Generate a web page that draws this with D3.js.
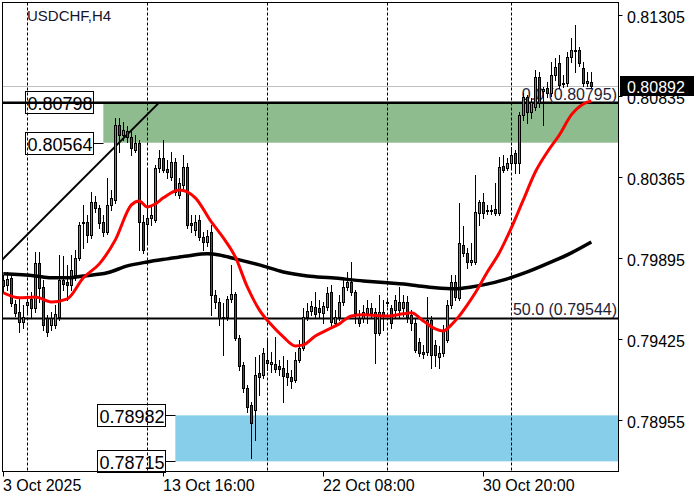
<!DOCTYPE html>
<html><head><meta charset="utf-8">
<script src="https://cdn.jsdelivr.net/npm/d3@7"></script>
<style>body{margin:0;background:#fff}svg{display:block}text{font-family:"Liberation Sans",Arial,sans-serif}</style>
</head><body><svg id="c" width="700" height="500"></svg>
<script>
const symbol = "USDCHF,H4";
// H4 candles, bar index 0..147
const open = [
.79768,.79739,.79780,.79629,.79582,.79524,.79623,.79658,.79606,.79867,
.79727,.79548,.79507,.79507,.79553,.79768,.79756,.79739,.79797,.79896,
.80104,.80104,.80029,.80220,.80186,.80104,.80046,.80203,.80232,.80667,
.80609,.80632,.80597,.80522,.80563,.80104,.80093,.80128,.80116,.80418,
.80476,.80412,.80365,.80452,.80261,.80319,.80423,.80099,.80058,.80116,
.80017,.79988,.80046,.79681,.79640,.79553,.79553,.79658,.79687,.79432,
.79275,.79142,.79043,.79014,.79229,.79217,.79304,.79281,.79281,.79269,
.79258,.79229,.79205,.79188,.79304,.79374,.79553,.79588,.79611,.79606,
.79577,.79611,.79698,.79519,.79553,.79640,.79727,.79756,.79698,.79548,
.79548,.79577,.79606,.79582,.79461,.79582,.79635,.79606,.79594,.79640,
.79606,.79640,.79565,.79519,.79408,.79350,.79350,.79536,.79391,.79321,
.79345,.79420,.79623,.79756,.79664,.79971,.79925,.79872,.79872,.80157,
.80220,.80168,.80174,.80180,.80157,.80429,.80418,.80447,.80505,.80447,
.80725,.80829,.80742,.80771,.80945,.80864,.80882,.80853,.80957,.81027,
.80905,.80911,.81061,.81102,.81102,.80998,.80911,.80916];
const high = [
.79797,.79814,.79803,.79652,.79664,.79623,.79675,.79698,.79930,.79930,
.79768,.79565,.79582,.79623,.79913,.79907,.79855,.79913,.79942,.80104,
.80203,.80145,.80278,.80255,.80203,.80145,.80360,.80290,.80708,.80708,
.80684,.80661,.80638,.80609,.80580,.80145,.80406,.80203,.80435,.80522,
.80580,.80464,.80510,.80476,.80360,.80493,.80447,.80145,.80145,.80145,
.80046,.80058,.80087,.79710,.79664,.79635,.79675,.79855,.79698,.79449,
.79292,.79159,.79060,.79321,.79333,.79374,.79420,.79350,.79437,.79304,
.79327,.79304,.79246,.79350,.79420,.79606,.79635,.79646,.79698,.79652,
.79640,.79727,.79739,.79594,.79681,.79780,.79814,.79872,.79710,.79594,
.79623,.79652,.79635,.79606,.79681,.79652,.79664,.79623,.79681,.79727,
.79681,.79675,.79594,.79548,.79432,.79391,.79669,.79559,.79420,.79385,
.79507,.79652,.79797,.79797,.80215,.80081,.79954,.79983,.80377,.80232,
.80273,.80203,.80203,.80331,.80481,.80493,.80476,.80539,.80522,.80742,
.80853,.80841,.80824,.80986,.80974,.80887,.80916,.81032,.81056,.81073,
.80957,.81090,.81172,.81247,.81119,.81032,.80974,.80974];
const low = [
.79698,.79710,.79617,.79559,.79466,.79490,.79582,.79548,.79582,.79640,
.79478,.79443,.79478,.79490,.79536,.79710,.79652,.79710,.79768,.79884,
.79954,.79988,.80012,.80162,.80070,.80023,.80035,.80174,.80215,.80510,
.80580,.80568,.80493,.80510,.79942,.79925,.79988,.80087,.80104,.80394,
.80394,.80360,.80348,.80261,.80244,.80302,.80070,.80046,.80029,.80000,
.79942,.79965,.79565,.79606,.79507,.79333,.79536,.79640,.79420,.79246,
.79118,.79002,.78736,.78840,.79101,.79200,.79246,.79234,.79234,.79217,
.79060,.79159,.79142,.79176,.79292,.79362,.79536,.79565,.79548,.79548,
.79519,.79594,.79507,.79507,.79536,.79623,.79710,.79681,.79519,.79501,
.79524,.79519,.79548,.79287,.79449,.79478,.79617,.79490,.79548,.79548,
.79559,.79524,.79478,.79350,.79327,.79316,.79333,.79258,.79269,.79258,
.79327,.79408,.79606,.79652,.79652,.79907,.79838,.79855,.79861,.80087,
.80128,.80151,.80151,.80145,.80145,.80394,.80406,.80423,.80389,.80389,
.80696,.80679,.80708,.80754,.80771,.80667,.80829,.80835,.80928,.80882,
.80887,.80892,.81032,.80974,.81009,.80892,.80892,.80882];
const close = [
.79733,.79774,.79635,.79577,.79524,.79553,.79640,.79606,.79867,.79722,
.79507,.79466,.79548,.79571,.79768,.79745,.79739,.79826,.79896,.80087,
.80099,.80029,.80220,.80186,.80099,.80046,.80203,.80244,.80667,.80609,
.80638,.80597,.80534,.80563,.80104,.79942,.80128,.80145,.80418,.80476,
.80406,.80394,.80452,.80278,.80331,.80423,.80087,.80087,.80104,.80017,
.79988,.80023,.79681,.79640,.79548,.79548,.79658,.79687,.79432,.79269,
.79142,.79031,.78939,.79217,.79205,.79345,.79287,.79292,.79252,.79252,
.79211,.79205,.79182,.79304,.79374,.79553,.79588,.79617,.79571,.79582,
.79617,.79693,.79524,.79553,.79640,.79727,.79756,.79698,.79577,.79519,
.79582,.79606,.79577,.79461,.79582,.79559,.79640,.79519,.79652,.79594,
.79640,.79553,.79519,.79362,.79345,.79339,.79536,.79333,.79333,.79345,
.79478,.79623,.79756,.79669,.79983,.79925,.79872,.79884,.80162,.80220,
.80157,.80174,.80168,.80157,.80423,.80406,.80447,.80493,.80447,.80725,
.80829,.80742,.80800,.80945,.80795,.80876,.80853,.80957,.81003,.80899,
.80911,.81061,.81102,.81096,.81027,.80911,.80922,.80892];

// moving averages (bar index, value)
const maFastBars = [0,4,8,12,16,20,24,28,32,34,36,38,40,44,48,52,55,58,61,64,67,70,73,75,78,81,84,87,90,96,100,102,105,108,110,112,114,116,118,121,124,127,130,133,136,139,142,145,147];
const maFast = [.79693,.79664,.79669,.79640,.79658,.79780,.79861,.80000,.80203,.80226,.80191,.80209,.80244,.80290,.80244,.80104,.80012,.79901,.79727,.79594,.79507,.79437,.79385,.79391,.79443,.79478,.79513,.79559,.79565,.79559,.79571,.79577,.79530,.79484,.79472,.79507,.79559,.79623,.79693,.79814,.79925,.80070,.80232,.80394,.80510,.80609,.80725,.80789,.80806];
const maSlowBars = [0,8,12,16,20,26,31,36,41,46,51,54,58,64,70,76,82,90,96,102,108,113,117,120,126,131,137,142,147];
const maSlow = [.79803,.79791,.79780,.79780,.79791,.79809,.79849,.79872,.79890,.79907,.79919,.79913,.79890,.79855,.79814,.79791,.79780,.79762,.79751,.79739,.79722,.79716,.79727,.79739,.79774,.79814,.79872,.79925,.79988];

const priceTicks = [0.81305, 0.80835, 0.80365, 0.79895, 0.79425, 0.78955];
const timeTickBars = [0, 40, 80, 120];
const timeTickLabels = ["3 Oct 2025", "13 Oct 16:00", "22 Oct 08:00", "30 Oct 20:00"];
const separatorBars = [6, 36, 66, 96, 127];

const supplyZone = [0.80564, 0.80798];
const supplyStartBar = 25;
const demandZone = [0.78715, 0.78982];
const demandStartBar = 43;
const lastPrice = 0.80892;
const fibLabels = ["0.0", "50.0"];
const fibPrices = [0.80795, 0.79544];
const trendBars = [0, 39];
const trendPrices = [0.79892, 0.80798];

const W = 700, H = 500;
const L = 2.5, R = 618.5, T = 2.5, B = 471.5;
const x = d3.scaleLinear().domain([0, 40]).range([3.33, 163.33]);
const y = d3.scaleLinear().domain([0.78955, 0.81305]).range([420, 15]);
const svg = d3.select("#c");
svg.append("rect").attr("width", W).attr("height", H).attr("fill", "#fff");
svg.append("defs").append("clipPath").attr("id", "plot")
  .append("rect").attr("x", 3).attr("y", 3).attr("width", 615).attr("height", 468);
const g = svg.append("g").attr("clip-path", "url(#plot)");

// zones
g.append("rect").attr("x", x(supplyStartBar)).attr("y", y(supplyZone[1]))
  .attr("width", R - x(supplyStartBar)).attr("height", y(supplyZone[0]) - y(supplyZone[1]))
  .attr("fill", "#8fbc8f");
g.append("rect").attr("x", x(demandStartBar)).attr("y", y(demandZone[1]))
  .attr("width", R - x(demandStartBar)).attr("height", y(demandZone[0]) - y(demandZone[1]))
  .attr("fill", "#87ceeb");

// period separators
g.selectAll("line.sep").data(separatorBars).join("line").attr("class", "sep")
  .attr("x1", d => Math.round(x(d)) + 0.5).attr("x2", d => Math.round(x(d)) + 0.5)
  .attr("y1", T).attr("y2", B).attr("stroke", "#000").attr("stroke-width", 1)
  .attr("stroke-dasharray", "3,2");

// bid line
g.append("line").attr("x1", L).attr("x2", R)
  .attr("y1", Math.round(y(lastPrice)) + 0.5).attr("y2", Math.round(y(lastPrice)) + 0.5)
  .attr("stroke", "#c0c0c0").attr("stroke-width", 1);

// level line and fib lines
g.append("line").attr("x1", L).attr("x2", R).attr("y1", y(supplyZone[1])).attr("y2", y(supplyZone[1]))
  .attr("stroke", "#000").attr("stroke-width", 2);
fibPrices.forEach((p, k) => {
  g.append("line").attr("x1", L).attr("x2", R).attr("y1", y(p)).attr("y2", y(p))
    .attr("stroke", "#000").attr("stroke-width", 2);
  g.append("text").attr("x", 617).attr("y", y(p) - 3).attr("text-anchor", "end")
    .attr("font-size", 16).attr("fill", "#1e2236")
    .text(fibLabels[k] + " (" + p.toFixed(5) + ")");
});

// trend line (extended to the left edge)
const slope = (trendPrices[1] - trendPrices[0]) / (trendBars[1] - trendBars[0]);
const b0 = x.invert(0);
g.append("line").attr("x1", x(b0)).attr("y1", y(trendPrices[0] + slope * (b0 - trendBars[0])))
  .attr("x2", x(trendBars[1])).attr("y2", y(trendPrices[1]))
  .attr("stroke", "#000").attr("stroke-width", 2);

// candles
const cg = g.append("g").attr("shape-rendering", "crispEdges");
open.forEach((o, i) => {
  const c = close[i];
  const cx = Math.round(x(i));
  cg.append("line").attr("x1", cx + 0.5).attr("x2", cx + 0.5)
    .attr("y1", Math.round(y(high[i]))).attr("y2", Math.round(y(low[i])) + 1)
    .attr("stroke", "#000").attr("stroke-width", 1);
  const top = Math.round(y(Math.max(o, c)));
  const bot = Math.round(y(Math.min(o, c)));
  if (bot - top < 1) {
    cg.append("rect").attr("x", cx - 1).attr("y", top).attr("width", 3).attr("height", 1).attr("fill", "#000");
  } else {
    cg.append("rect").attr("x", cx - 0.5).attr("y", top + 0.5).attr("width", 2).attr("height", bot - top)
      .attr("fill", c >= o ? "#3cb03c" : "#e01010").attr("stroke", "#000").attr("stroke-width", 1);
  }
});

// moving averages
const line = d3.line().x(d => x(d[0])).y(d => y(d[1])).curve(d3.curveMonotoneX);
g.append("path").datum(maSlowBars.map((b, k) => [b, maSlow[k]])).attr("d", line)
  .attr("fill", "none").attr("stroke", "#000").attr("stroke-width", 3.5);
g.append("path").datum(maFastBars.map((b, k) => [b, maFast[k]])).attr("d", line)
  .attr("fill", "none").attr("stroke", "#ff0000").attr("stroke-width", 3);

// boxed price labels
function boxLabel(price, startBar) {
  const yy = Math.round(y(price)) + 0.5;
  const right = Math.round(x(startBar)) - 9.5;
  const left = right - 68;
  svg.append("rect").attr("x", left).attr("y", yy - 11).attr("width", 68).attr("height", 22)
    .attr("fill", "none").attr("stroke", "#000").attr("stroke-width", 1);
  svg.append("line").attr("x1", right).attr("x2", right + 10).attr("y1", yy).attr("y2", yy)
    .attr("stroke", "#000").attr("stroke-width", 1);
  svg.append("text").attr("x", left + 2).attr("y", yy + 7.5).attr("font-size", 18).attr("fill", "#000")
    .text(price.toFixed(5));
}
boxLabel(supplyZone[1], supplyStartBar);
boxLabel(supplyZone[0], supplyStartBar);
boxLabel(demandZone[1], demandStartBar);
boxLabel(demandZone[0], demandStartBar);

// title
svg.append("text").attr("x", 27).attr("y", 20.5).attr("font-size", 15).attr("fill", "#14142a").text(symbol);

// frame
svg.append("rect").attr("x", L).attr("y", T).attr("width", R - L).attr("height", B - T)
  .attr("fill", "none").attr("stroke", "#000").attr("stroke-width", 1);

// right axis
priceTicks.forEach(p => {
  const yy = Math.round(y(p)) + 0.5;
  svg.append("line").attr("x1", R).attr("x2", R + 4).attr("y1", yy).attr("y2", yy).attr("stroke", "#000");
  svg.append("text").attr("x", 627).attr("y", yy + 7).attr("font-size", 16).attr("fill", "#000").text(p.toFixed(5));
});
// bottom axis
timeTickBars.forEach((b, k) => {
  const xx = Math.round(x(b)) + 0.5;
  svg.append("line").attr("x1", xx).attr("x2", xx).attr("y1", B).attr("y2", B + 5).attr("stroke", "#000");
  svg.append("text").attr("x", xx - 0.5).attr("y", 490.5).attr("font-size", 16).attr("fill", "#000").text(timeTickLabels[k]);
});

// current price tag
const ly = Math.round(y(lastPrice)) + 0.5;
svg.append("rect").attr("x", 620).attr("y", ly - 10.5).attr("width", 74).attr("height", 20).attr("fill", "#000");
svg.append("text").attr("x", 627).attr("y", ly + 6.5).attr("font-size", 16).attr("fill", "#fff").text(lastPrice.toFixed(5));
</script></body></html>
